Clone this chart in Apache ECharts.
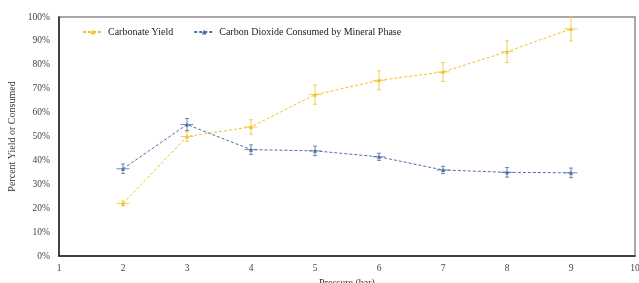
<!DOCTYPE html>
<html>
<head>
<meta charset="UTF-8">
<title>Carbonate Yield</title>
<script src="https://cdn.jsdelivr.net/npm/echarts@6/dist/echarts.min.js"></script>
<style>
  html, body { margin: 0; padding: 0; background: #fff; }
  #chart { width: 639px; height: 283px; }
</style>
</head>
<body>
<div id="chart"></div>
<script>
// pressure (bar)
var pressure = [2, 3, 4, 5, 6, 7, 8, 9];
// percent values
var carbonateYield = [22, 50, 54, 67.5, 73.5, 77, 85.5, 95];
var carbonateErr = [1, 2, 3, 4, 4, 4, 4.5, 5];
var co2Consumed = [36.5, 55, 44.5, 44, 41.5, 36, 35, 34.8];
var co2Err = [2, 2.5, 2, 2, 1.5, 1.5, 2, 2];
var xErr = 0.1;

var yellow = '#f0c229';
var blue = '#4a70a8';
var font = 'Liberation Serif, Times New Roman, serif';

function pairs(ys) {
  return pressure.map(function (x, i) { return [x, ys[i]]; });
}
function errData(ys, es) {
  return pressure.map(function (x, i) { return [x, ys[i] - es[i], ys[i] + es[i], ys[i]]; });
}
function errRender(color) {
  return function (params, api) {
    var x = api.value(0);
    var lo = api.coord([x, api.value(1)]);
    var hi = api.coord([x, api.value(2)]);
    var mid = api.coord([x, api.value(3)]);
    var l = api.coord([x - xErr, api.value(3)]);
    var r = api.coord([x + xErr, api.value(3)]);
    var c = 2;
    var st = { stroke: color, lineWidth: 1, opacity: 0.8 };
    return {
      type: 'group',
      children: [
        { type: 'line', shape: { x1: lo[0], y1: lo[1], x2: hi[0], y2: hi[1] }, style: st },
        { type: 'line', shape: { x1: lo[0] - c, y1: lo[1], x2: lo[0] + c, y2: lo[1] }, style: st },
        { type: 'line', shape: { x1: hi[0] - c, y1: hi[1], x2: hi[0] + c, y2: hi[1] }, style: st },
        { type: 'line', shape: { x1: l[0], y1: mid[1], x2: r[0], y2: mid[1] }, style: st }
      ]
    };
  };
}

var chart = echarts.init(document.getElementById('chart'));
chart.setOption({
  animation: false,
  textStyle: { fontFamily: font },
  grid: {
    left: 59, right: 4, top: 17, bottom: 27, outerBoundsMode: 'none',
    show: true, borderColor: '#8c8c8c', borderWidth: 1.5
  },
  legend: {
    left: 77, top: 22, itemWidth: 20, itemHeight: 6, itemGap: 20,
    textStyle: { fontFamily: font, fontSize: 10, color: '#222' },
    data: ['Carbonate Yield', 'Carbon Dioxide Consumed by Mineral Phase']
  },
  xAxis: {
    type: 'value', min: 1, max: 10, interval: 1,
    name: 'Pressure (bar)', nameLocation: 'middle', nameGap: 20,
    nameTextStyle: { fontFamily: font, fontSize: 10, color: '#333' },
    axisLine: { lineStyle: { color: '#222', width: 1.5 } },
    axisTick: { show: false },
    axisLabel: { fontFamily: font, fontSize: 9.5, color: '#444', margin: 7 },
    splitLine: { show: false }
  },
  yAxis: {
    type: 'value', min: 0, max: 100, interval: 10,
    name: 'Percent Yield or Consumed', nameLocation: 'middle', nameGap: 39,
    nameTextStyle: { fontFamily: font, fontSize: 10, color: '#333' },
    axisLine: { show: true, lineStyle: { color: '#222', width: 1.5 } },
    axisTick: { show: false },
    axisLabel: { fontFamily: font, fontSize: 9.5, color: '#444', margin: 9, formatter: '{value}%' },
    splitLine: { show: false }
  },
  series: [
    {
      name: 'Carbonate Yield', type: 'line', data: pairs(carbonateYield),
      symbol: 'triangle', symbolSize: 4, color: yellow,
      lineStyle: { type: [3, 2], width: 1, color: yellow },
      itemStyle: { color: yellow }, z: 3
    },
    {
      name: 'Carbon Dioxide Consumed by Mineral Phase', type: 'line', data: pairs(co2Consumed),
      symbol: 'triangle', symbolSize: 4, color: blue,
      lineStyle: { type: [3, 2], width: 1, color: blue },
      itemStyle: { color: blue }, z: 3
    },
    { type: 'custom', data: errData(carbonateYield, carbonateErr), renderItem: errRender(yellow), z: 2, silent: true },
    { type: 'custom', data: errData(co2Consumed, co2Err), renderItem: errRender(blue), z: 2, silent: true }
  ]
});
</script>
</body>
</html>
